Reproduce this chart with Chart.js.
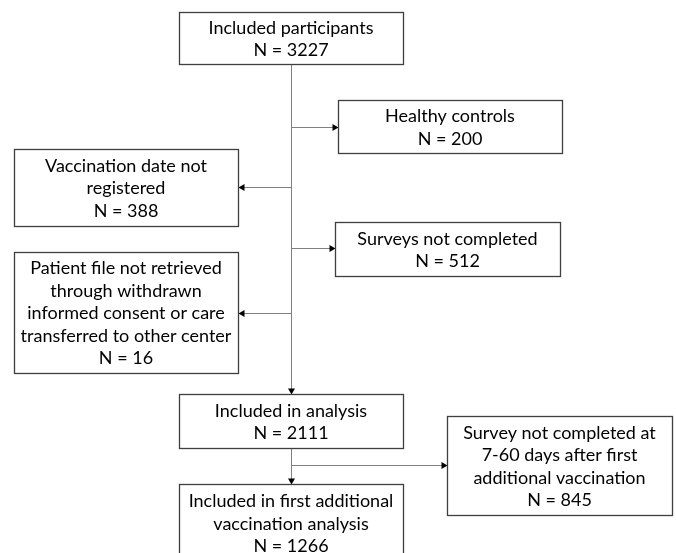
<!DOCTYPE html>
<html>
<head>
<meta charset="utf-8">
<script src="https://cdn.jsdelivr.net/npm/chart.js@4"></script>
<style>
  html, body { margin: 0; padding: 0; background: #ffffff; }
  #wrap { width: 676px; height: 553px; position: relative; }
</style>
</head>
<body>
<div id="wrap"><canvas id="c"></canvas></div>
<script>
// ---- Data ----
const stepLabels = [
  ["Included participants"],
  ["Healthy controls"],
  ["Vaccination date not", "registered"],
  ["Surveys not completed"],
  ["Patient file not retrieved", "through withdrawn", "informed consent or care", "transferred to other center"],
  ["Included in analysis"],
  ["Survey not completed at", "7-60 days after first", "additional vaccination"],
  ["Included in first additional", "vaccination analysis"]
];
const stepCounts = [3227, 200, 388, 512, 16, 2111, 845, 1266];

// ---- Layout (diagram coordinates: left, top, right, bottom) ----
const boxLayout = [
  [179, 12, 403, 64],
  [338, 100, 562, 153],
  [14, 149, 238, 226],
  [335, 222, 560, 276],
  [14, 252, 238, 373],
  [179, 394, 403, 448],
  [447, 416, 672, 515],
  [179, 484, 403, 562]
];
// connectors: [x1, y1, x2, y2, arrowAtEnd]
const connectors = [
  [291, 64, 291, 394, true],
  [291, 127, 338, 127, true],
  [291, 187, 238, 187, true],
  [291, 248, 335, 248, true],
  [291, 313, 238, 313, true],
  [291, 448, 291, 484, true],
  [291, 465, 447, 465, true]
];

const FONT = '18px Lato, "Open Sans", sans-serif';
const LINE_H = 22.5;
const TEXT_SHIFT = 1;

const flowPlugin = {
  id: 'flow',
  afterDraw(chart) {
    const ctx = chart.ctx;
    const X = v => chart.scales.x.getPixelForValue(v);
    const Y = v => chart.scales.y.getPixelForValue(v);
    ctx.save();
    // connectors
    connectors.forEach(([x1, y1, x2, y2, arr]) => {
      const px1 = X(x1), py1 = Y(y1), px2 = X(x2), py2 = Y(y2);
      ctx.strokeStyle = '#808080';
      ctx.lineWidth = 1;
      ctx.beginPath();
      ctx.moveTo(Math.round(px1) + 0.5, Math.round(py1) + 0.5);
      ctx.lineTo(Math.round(px2) + 0.5, Math.round(py2) + 0.5);
      ctx.stroke();
      if (arr) {
        const ang = Math.atan2(py2 - py1, px2 - px1);
        const L = 6, W = 3.5;
        const tx = Math.round(px2) + 0.5, ty = Math.round(py2) + 0.5;
        ctx.fillStyle = '#000000';
        ctx.beginPath();
        ctx.moveTo(tx, ty);
        ctx.lineTo(tx - L * Math.cos(ang) + W * Math.sin(ang), ty - L * Math.sin(ang) - W * Math.cos(ang));
        ctx.lineTo(tx - L * Math.cos(ang) - W * Math.sin(ang), ty - L * Math.sin(ang) + W * Math.cos(ang));
        ctx.closePath();
        ctx.fill();
      }
    });
    // boxes
    boxLayout.forEach((b, i) => {
      const l = X(b[0]), t = Y(b[1]), r = X(b[2]), bt = Y(b[3]);
      ctx.fillStyle = '#ffffff';
      ctx.fillRect(l, t, r - l, bt - t);
      ctx.strokeStyle = '#3f3f3f';
      ctx.lineWidth = 1.3;
      ctx.strokeRect(Math.round(l) + 0.5, Math.round(t) + 0.5, Math.round(r - l), Math.round(bt - t));
      const lines = stepLabels[i].concat(['N = ' + stepCounts[i]]);
      const cx = (l + r) / 2, cy = (t + bt) / 2 + TEXT_SHIFT;
      ctx.fillStyle = '#000000';
      ctx.font = FONT;
      ctx.textAlign = 'center';
      ctx.textBaseline = 'middle';
      const n = lines.length;
      lines.forEach((s, k) => {
        ctx.fillText(s, cx, cy + (k - (n - 1) / 2) * LINE_H);
      });
    });
    ctx.restore();
  }
};

new Chart(document.getElementById('c'), {
  type: 'scatter',
  data: { datasets: [{ data: [], pointRadius: 0 }] },
  options: {
    responsive: true,
    maintainAspectRatio: false,
    animation: false,
    layout: { padding: 0 },
    scales: {
      x: { type: 'linear', min: 0, max: 676, display: false },
      y: { type: 'linear', min: 0, max: 553, reverse: true, display: false }
    },
    plugins: { legend: { display: false }, tooltip: { enabled: false } }
  },
  plugins: [flowPlugin]
});
</script>
</body>
</html>
